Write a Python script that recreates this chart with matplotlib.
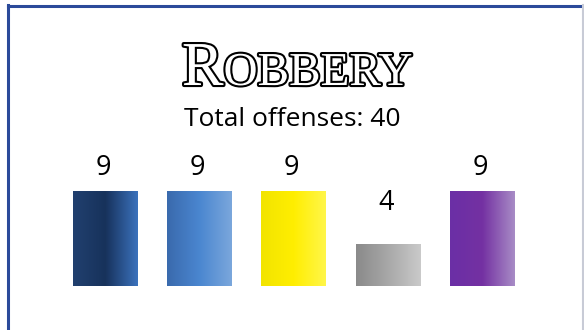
import numpy as np
import matplotlib
matplotlib.use("Agg")
import matplotlib.pyplot as plt
import matplotlib.patheffects as pe
from matplotlib.colors import LinearSegmentedColormap
from matplotlib.lines import Line2D

# offense counts, one bar per category
categories = ["A", "B", "C", "D", "E"]
values = np.array([9, 9, 9, 4, 9])
total = values.sum()

title_first = "R"
title_rest = "OBBERY"
subtitle = "Total offenses: %d" % total

# left / middle / right colour stops for each bar
bar_stops = [
    ("#21406f", "#17325b", "#3b72bd"),
    ("#3a6aad", "#4a86d0", "#7ba7dc"),
    ("#f2e400", "#ffee00", "#fff64a"),
    ("#8a8a8a", "#a8a8a8", "#cacaca"),
    ("#6b2fa6", "#7431a2", "#a88cc6"),
]

W, H = 584, 330
fig = plt.figure(figsize=(W / 100, H / 100), dpi=100)
fig.patch.set_facecolor("white")

# frame: blue top and left edges, grey right edge
fig.add_artist(Line2D([8 / W, 8 / W], [0, 1 - 5 / H], color="#2b4a9a", lw=2.2))
fig.add_artist(Line2D([8 / W, 583 / W], [1 - 5.5 / H, 1 - 5.5 / H], color="#2b4a9a", lw=2.2))
fig.add_artist(Line2D([583 / W, 583 / W], [0, 1 - 5 / H], color="#c8cbd6", lw=1.5))

# bar area
px_unit_x = 94.25
px_unit_y = 10.55
ymax = 14
ax = fig.add_axes([(105 - 0.5 * px_unit_x) / W, 44 / H,
                   5 * px_unit_x / W, ymax * px_unit_y / H])
ax.set_xlim(-0.5, 4.5)
ax.set_ylim(0, ymax)
ax.axis("off")

x = np.arange(len(categories))
bars = ax.bar(x, values, width=0.68, color="none", edgecolor="none")

grad = np.linspace(0, 1, 256).reshape(1, -1)
for b, stops in zip(bars, bar_stops):
    cmap = LinearSegmentedColormap.from_list("g", list(stops))
    x0, y0 = b.get_x(), b.get_y()
    im = ax.imshow(grad, cmap=cmap, aspect="auto",
                   extent=(x0, x0 + b.get_width(), y0, y0 + b.get_height()),
                   interpolation="bicubic", zorder=2)
    im.set_clip_path(b)
ax.set_xlim(-0.5, 4.5)
ax.set_ylim(0, ymax)

sans = ["Open Sans", "DejaVu Sans"]
label_y = np.maximum(values + 2.2, 7.9)
for xi, v, ly in zip(x, values, label_y):
    ax.text(xi - 0.02, ly, str(v), ha="center", va="center",
            fontsize=19.5, family=sans, color="black")

fig.text(0.5, 1 - 119 / H, subtitle, ha="center", va="center",
         fontsize=19, family=sans, color="black")

# outlined small-caps title
outline = [pe.Stroke(linewidth=3.0, foreground="black"), pe.Normal()]
serif = ["Liberation Serif", "DejaVu Serif"]
base_y = 1 - 85 / H
t1 = fig.text(0, base_y, title_first, ha="left", va="baseline",
              fontsize=45, family=serif, color="white", path_effects=outline)
t2 = fig.text(0, base_y, title_rest, ha="left", va="baseline",
              fontsize=34, family=serif, color="white", path_effects=outline)
r = fig.canvas.get_renderer()
w1 = t1.get_window_extent(r).width
w2 = t2.get_window_extent(r).width
start = 297 - (w1 + w2) / 2
t1.set_x(start / W)
t2.set_x((start + w1) / W)

fig.savefig("out.png", dpi=100, facecolor="white")
